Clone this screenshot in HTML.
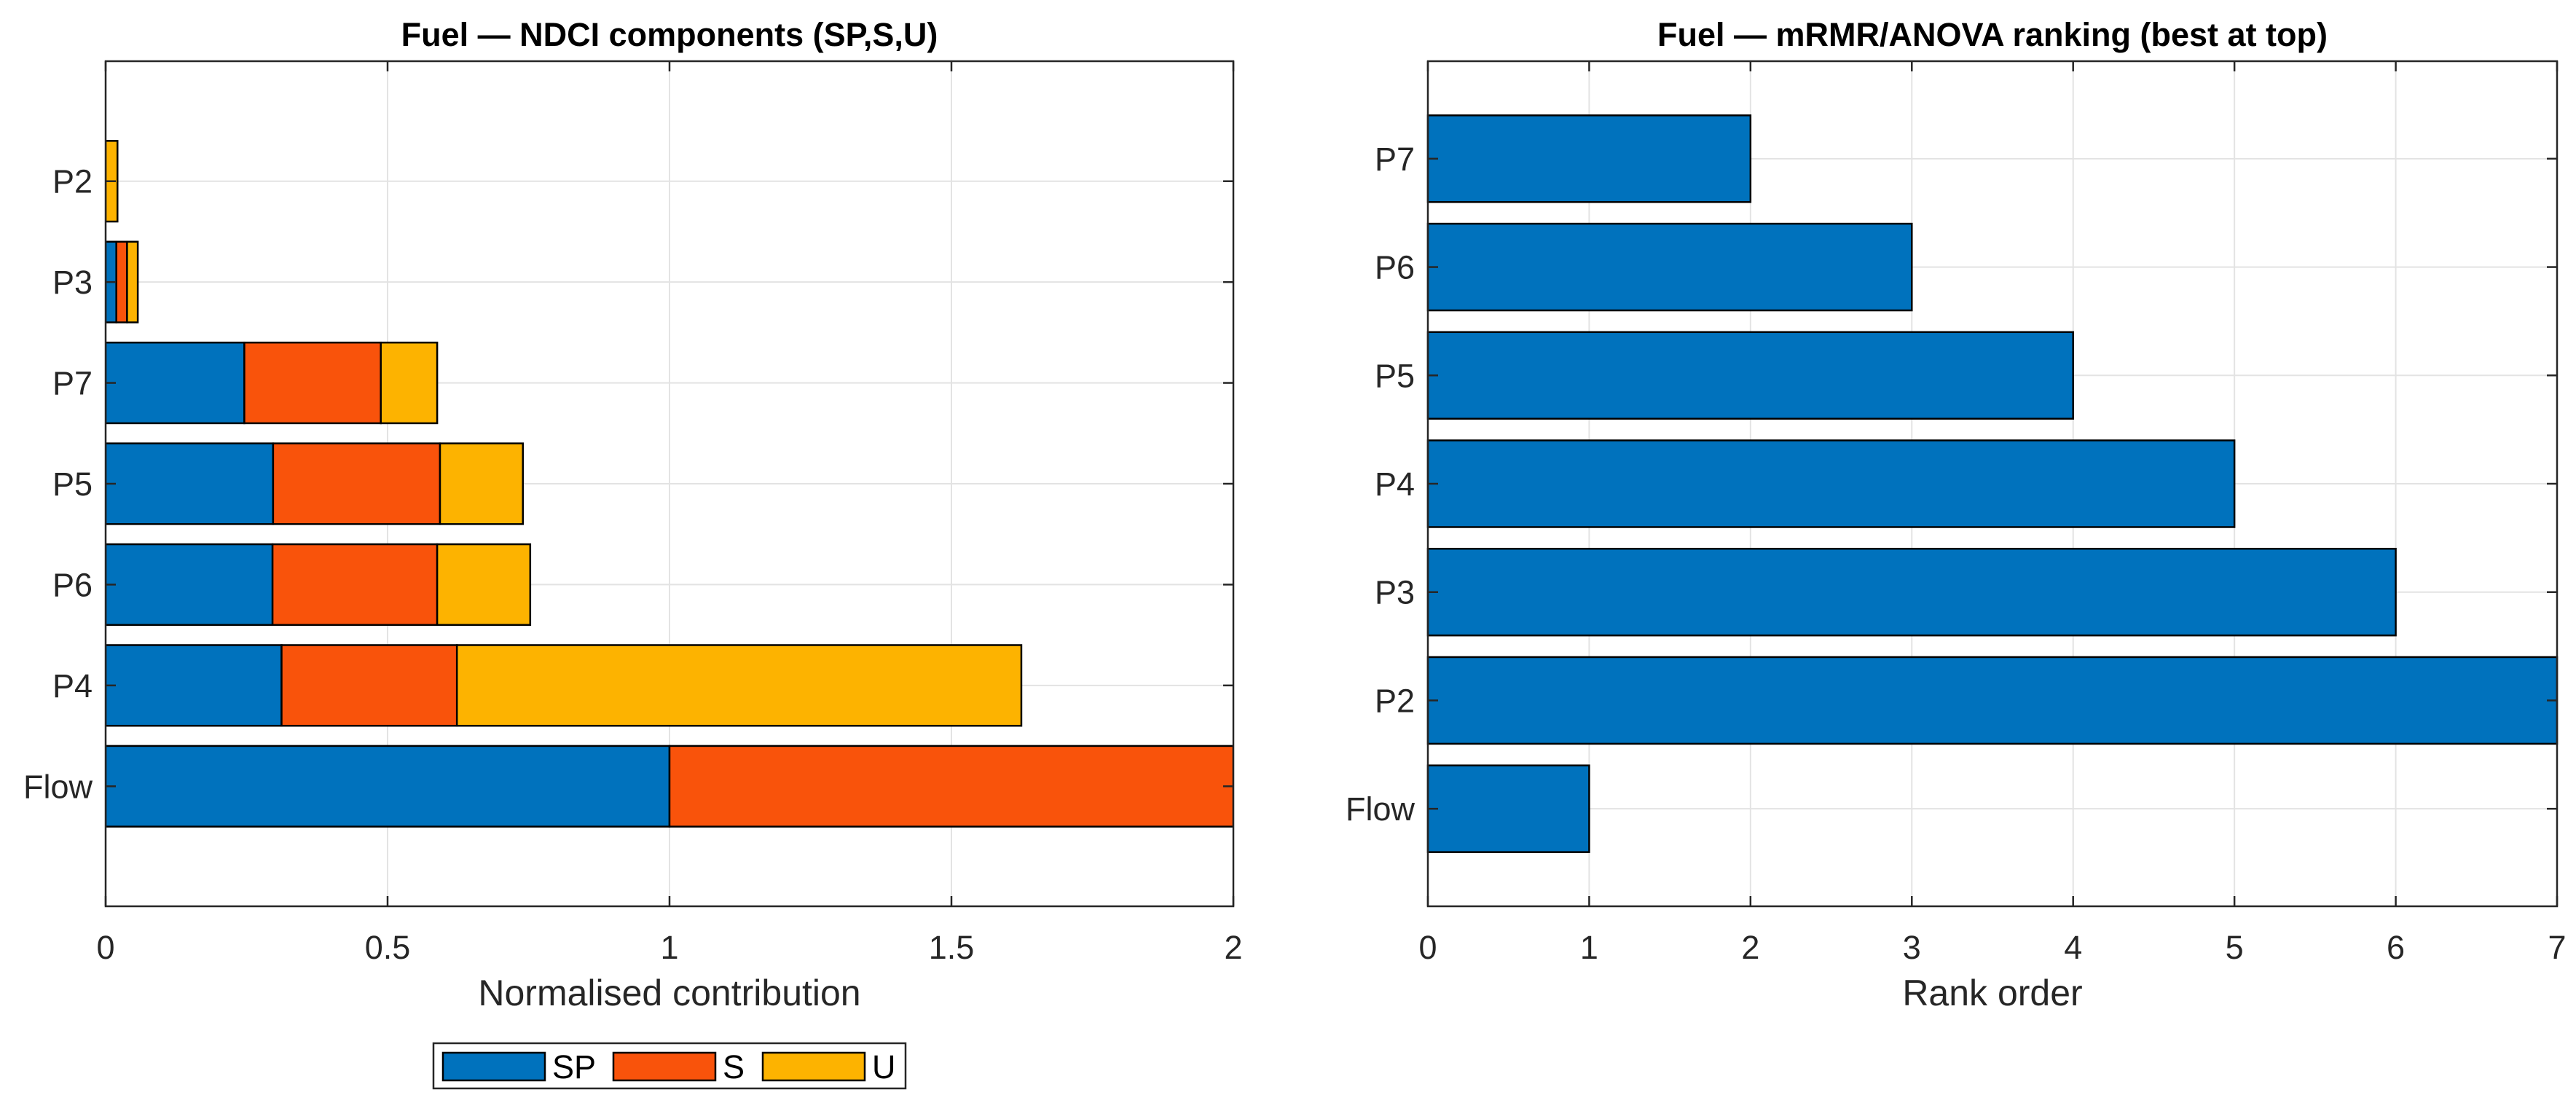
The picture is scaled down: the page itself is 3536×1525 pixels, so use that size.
<!DOCTYPE html>
<html><head><meta charset="utf-8"><title>Fuel NDCI and ranking</title>
<style>
html,body{margin:0;padding:0;background:#fff;}
svg{display:block;font-family:"Liberation Sans",Arial,sans-serif;}
</style></head>
<body>
<svg id="fig" width="3536" height="1525" viewBox="0 0 3536 1525" xmlns="http://www.w3.org/2000/svg">
<rect width="3536" height="1525" fill="#fff"/>
<g id="left"></g>
<g id="right"></g>
<g id="legend"></g>
</svg>
<script>
// ---- Left chart data ----
const leftCategories = ["Flow","P4","P6","P5","P7","P3","P2"];
const spValues = [1.0, 0.312, 0.296, 0.297, 0.246, 0.019, 0.0];
const sValues  = [1.0, 0.311, 0.292, 0.296, 0.242, 0.019, 0.0];
const uValues  = [0.0, 1.001, 0.165, 0.147, 0.100, 0.019, 0.021];
const leftXTicks = [0, 0.5, 1, 1.5, 2];
const leftXTickLabels = ["0","0.5","1","1.5","2"];
const seriesNames = ["SP","S","U"];
// ---- Right chart data ----
const rightCategories = ["Flow","P2","P3","P4","P5","P6","P7"];
const rankValues = [1, 7, 6, 5, 4, 3, 2];
const rightXTicks = [0,1,2,3,4,5,6,7];
const rightXTickLabels = ["0","1","2","3","4","5","6","7"];

const NS="http://www.w3.org/2000/svg";
const colors=["#0072BD","#F9530B","#FDB300"];
const TXT="#262626";
function mk(tag,attrs,parent){const e=document.createElementNS(NS,tag);for(const k in attrs)e.setAttribute(k,attrs[k]);parent.appendChild(e);return e;}

function axes(g,o){
  const xs=v=>o.x0+(v-o.xmin)/(o.xmax-o.xmin)*(o.x1-o.x0);
  const ys=v=>o.y1-(v-o.ymin)/(o.ymax-o.ymin)*(o.y1-o.y0);
  o.xticks.forEach((t,i)=>{
    const l=mk('line',{x1:xs(t),x2:xs(t),y1:o.y0,y2:o.y1,stroke:"#e3e3e3","stroke-width":2},g);
    
    
  });
  o.cats.forEach((c,i)=>{
    const l=mk('line',{x1:o.x0,x2:o.x1,y1:ys(i+1),y2:ys(i+1),stroke:"#e3e3e3","stroke-width":2},g);
    
    
  });
  return {xs,ys};
}
function frame(g,o,xs,ys){
  const r=mk('rect',{x:o.x0,y:o.y0,width:o.x1-o.x0,height:o.y1-o.y0,fill:"none",stroke:TXT,"stroke-width":2.5},g);
  
  
  o.xticks.forEach((t,i)=>{
    const x=xs(t);
    mk('line',{x1:x,x2:x,y1:o.y1,y2:o.y1-14,stroke:TXT,"stroke-width":2.5},g);
    mk('line',{x1:x,x2:x,y1:o.y0,y2:o.y0+14,stroke:TXT,"stroke-width":2.5},g);
    const tx=mk('text',{x:x,y:o.y1+72,"text-anchor":"middle","font-size":45,fill:TXT},g);
    tx.textContent=o.xlabels[i];
    
    
  });
  o.cats.forEach((c,i)=>{
    const y=ys(i+1);
    mk('line',{x1:o.x0,x2:o.x0+14,y1:y,y2:y,stroke:TXT,"stroke-width":2.5},g);
    mk('line',{x1:o.x1,x2:o.x1-14,y1:y,y2:y,stroke:TXT,"stroke-width":2.5},g);
    const tx=mk('text',{x:o.x0-18,y:y+16,"text-anchor":"end","font-size":45,fill:TXT},g);
    tx.textContent=c;
    
    
  });
  const xl=mk('text',{x:(o.x0+o.x1)/2,y:o.y1+136,"text-anchor":"middle","font-size":50,fill:TXT},g);
  xl.textContent=o.xtitle;
  
  
  const tt=mk('text',{x:(o.x0+o.x1)/2,y:63,"text-anchor":"middle","font-size":45,"font-weight":"bold",fill:"#000"},g);
  tt.textContent=o.title;
  
  
}

// Left chart
(function(){
  const g=document.getElementById('left');
  const o={x0:145,x1:1693,y0:84,y1:1244,xmin:0,xmax:2,ymin:-0.19,ymax:8.19,
    xticks:leftXTicks,xlabels:leftXTickLabels,cats:leftCategories,
    xtitle:"Normalised contribution",title:"Fuel \u2014 NDCI components (SP,S,U)"};
  const {xs,ys}=axes(g,o);
  const bh=ys(0)-ys(0.8);
  const clip=mk('clipPath',{id:'clipL'},g);
  mk('rect',{x:o.x0,y:o.y0,width:o.x1-o.x0,height:o.y1-o.y0},clip);
  const bars=mk('g',{"clip-path":"url(#clipL)"},g);
  const series=[spValues,sValues,uValues];
  leftCategories.forEach((c,i)=>{
    let acc=0;
    series.forEach((s,k)=>{
      const v=s[i];
      if(v<=0) return;
      const r=mk('rect',{x:xs(acc),y:ys(i+1)-bh/2,width:xs(acc+v)-xs(acc),height:bh,fill:colors[k],stroke:"#000","stroke-width":2.5},bars);
      
      
      acc+=v;
    });
  });
  frame(g,o,xs,ys);
})();

// Right chart
(function(){
  const g=document.getElementById('right');
  const o={x0:1960,x1:3510,y0:84,y1:1244,xmin:0,xmax:7,ymin:0.1,ymax:7.9,
    xticks:rightXTicks,xlabels:rightXTickLabels,cats:rightCategories,
    xtitle:"Rank order",title:"Fuel \u2014 mRMR/ANOVA ranking (best at top)"};
  const {xs,ys}=axes(g,o);
  const bh=ys(0)-ys(0.8);
  rightCategories.forEach((c,i)=>{
    const r=mk('rect',{x:xs(0),y:ys(i+1)-bh/2,width:xs(rankValues[i])-xs(0),height:bh,fill:colors[0],stroke:"#000","stroke-width":2.5},g);
    
    
  });
  frame(g,o,xs,ys);
})();

// Legend
(function(){
  const g=document.getElementById('legend');
  const b=mk('rect',{x:595,y:1432,width:648,height:62,fill:"#fff",stroke:TXT,"stroke-width":2.5},g);
  
  
  const sx=[608,842,1047];
  seriesNames.forEach((n,k)=>{
    const r=mk('rect',{x:sx[k],y:1445,width:140,height:38,fill:colors[k],stroke:"#000","stroke-width":2.5},g);
    
    
    const t=mk('text',{x:sx[k]+150,y:1480,"font-size":45,fill:"#000"},g);
    t.textContent=n;
    
    
  });
})();
</script>
</body></html>
